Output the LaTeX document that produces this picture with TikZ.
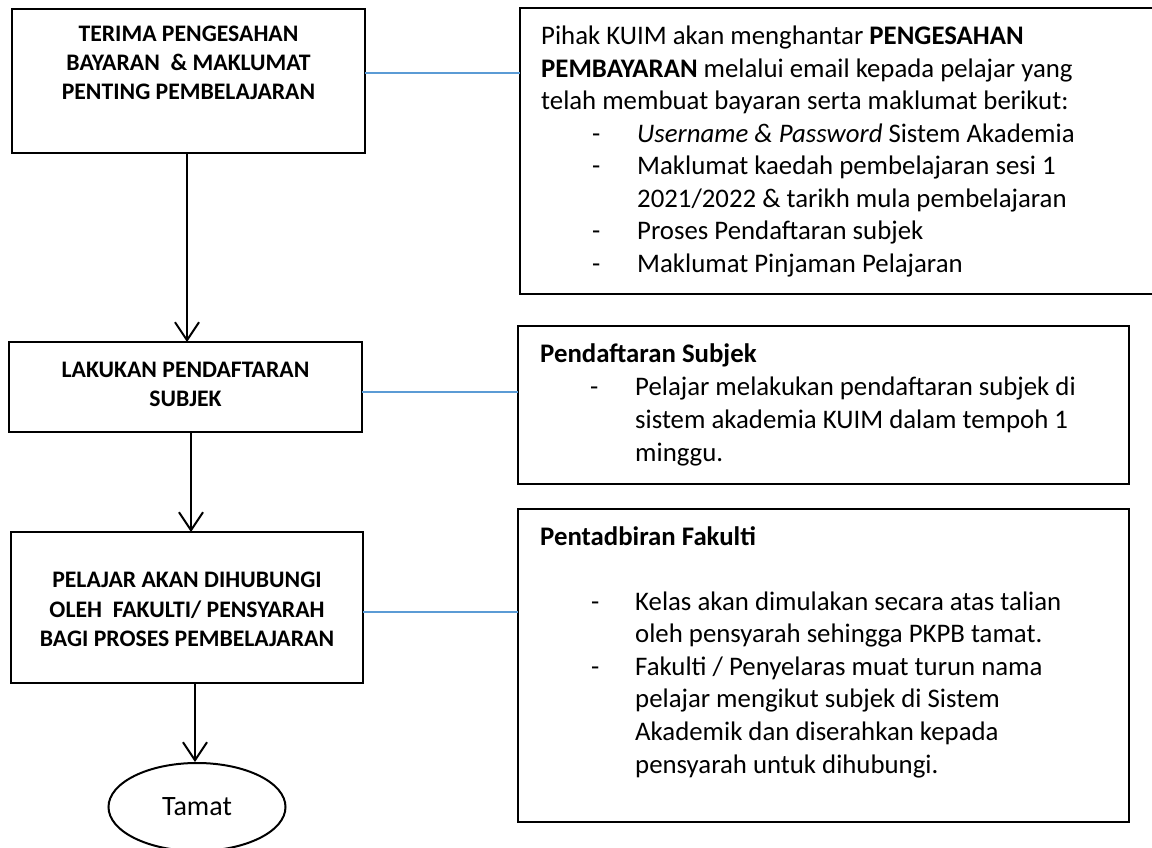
\documentclass[tikz,border=0pt]{standalone}
\usepackage{fontspec}
\setmainfont{Carlito}
\usetikzlibrary{arrows.meta,shapes.geometric}
\newcommand\myfs{\fontsize{23.7}{28}\selectfont}
\newcommand\myrfs{\fontsize{26.8}{32}\selectfont}
\definecolor{linkblue}{RGB}{91,155,213}
\begin{document}
\begin{tikzpicture}[x=1pt,y=-1pt,
 box/.style={draw=black, line width=2pt, rectangle, inner sep=0pt, outer sep=0pt},
 arr/.style={draw=black, line width=2pt, -{Straight Barb[length=18pt,width=24pt]}},
 lnk/.style={draw=linkblue, line width=1.6pt},
 ctr/.style={anchor=base, inner sep=0pt, font=\myfs\bfseries},
 txt/.style={anchor=base west, inner sep=0pt, font=\myrfs}]
\useasboundingbox (0,0) rectangle (1152,848);

% left flow boxes
\node[box, minimum width=353pt, minimum height=144pt] (b1) at (188.5,81) {};
\node[box, minimum width=353pt, minimum height=90pt] (b2) at (185.5,387) {};
\node[box, minimum width=352pt, minimum height=151pt] (b3) at (187,607.5) {};
\node[ellipse, draw=black, line width=2pt, minimum width=177pt, minimum height=88pt, inner sep=0pt, font=\fontsize{28}{32}\selectfont] (tam) at (197,807) {Tamat};

% left texts
\node[ctr] (t11) at (188.5,42) {TERIMA PENGESAHAN};
\node[ctr] (t12) at (188.5,71) {BAYARAN\ \ \& MAKLUMAT};
\node[ctr] (t13) at (188.5,100) {PENTING PEMBELAJARAN};
\node[ctr] (t21) at (185.5,377) {LAKUKAN PENDAFTARAN};
\node[ctr] (t22) at (185.5,406) {SUBJEK};
\node[ctr] (t31) at (187,587) {PELAJAR AKAN DIHUBUNGI};
\node[ctr] (t32) at (187,617) {OLEH\ \ FAKULTI/ PENSYARAH};
\node[ctr] (t33) at (187,646) {BAGI PROSES PEMBELAJARAN};

% right boxes
\node[box, minimum width=640pt, minimum height=286pt] (r1) at (840,151) {};
\node[box, minimum width=611pt, minimum height=158pt] (r2) at (823.5,405) {};
\node[box, minimum width=611pt, minimum height=313pt] (r3) at (823.5,665.5) {};

% right box 1 text
\node[txt] (p1) at (541,45) {Pihak KUIM akan menghantar \textbf{PENGESAHAN}};
\node[txt] (p2) at (541,77.5) {\textbf{PEMBAYARAN} melalui email kepada pelajar yang};
\node[txt] (p3) at (541,110) {telah membuat bayaran serta maklumat berikut:};
\node[txt] (d4) at (592,142.5) {-};
\node[txt] (p4) at (637,142.5) {\textit{Username \& Password} Sistem Akademia};
\node[txt] (d5) at (592,175) {-};
\node[txt] (p5) at (637,175) {Maklumat kaedah pembelajaran sesi 1};
\node[txt] (p6) at (637,207.5) {2021/2022 \& tarikh mula pembelajaran};
\node[txt] (d7) at (592,240) {-};
\node[txt] (p7) at (637,240) {Proses Pendaftaran subjek};
\node[txt] (d8) at (592,272.5) {-};
\node[txt] (p8) at (637,272.5) {Maklumat Pinjaman Pelajaran};

% right box 2 text
\node[txt, font=\myrfs\bfseries] (q1) at (540,362) {Pendaftaran Subjek};
\node[txt] (e2) at (590,395) {-};
\node[txt] (q2) at (635,395) {Pelajar melakukan pendaftaran subjek di};
\node[txt] (q3) at (635,428) {sistem akademia KUIM dalam tempoh 1};
\node[txt] (q4) at (635,461) {minggu.};

% right box 3 text
\node[txt, font=\myrfs\bfseries] (s1) at (540,545) {Pentadbiran Fakulti};
\node[txt] (f2) at (591,610) {-};
\node[txt] (s2) at (635,610) {Kelas akan dimulakan secara atas talian};
\node[txt] (s3) at (635,642.6) {oleh pensyarah sehingga PKPB tamat.};
\node[txt] (f4) at (591,675.2) {-};
\node[txt] (s4) at (635,675.2) {Fakulti / Penyelaras muat turun nama};
\node[txt] (s5) at (635,707.8) {pelajar mengikut subjek di Sistem};
\node[txt] (s6) at (635,740.4) {Akademik dan diserahkan kepada};
\node[txt] (s7) at (635,773) {pensyarah untuk dihubungi.};

% arrows
\draw[arr] ([xshift=-1.5pt]b1.south) -- ([xshift=1.5pt]b2.north);
\draw[arr] ([xshift=5.5pt]b2.south) -- ([xshift=4pt]b3.north);
\draw[arr] ([xshift=8pt]b3.south) -- ([xshift=-2pt]tam.north);

% blue links
\draw[lnk] ([yshift=8pt]b1.east) -- ([yshift=8pt]b1.east -| r1.west);
\draw[lnk] ([yshift=-5pt]b2.east) -- ([yshift=-5pt]b2.east -| r2.west);
\draw[lnk] ([yshift=-4.5pt]b3.east) -- ([yshift=-4.5pt]b3.east -| r3.west);
\end{tikzpicture}
\end{document}
